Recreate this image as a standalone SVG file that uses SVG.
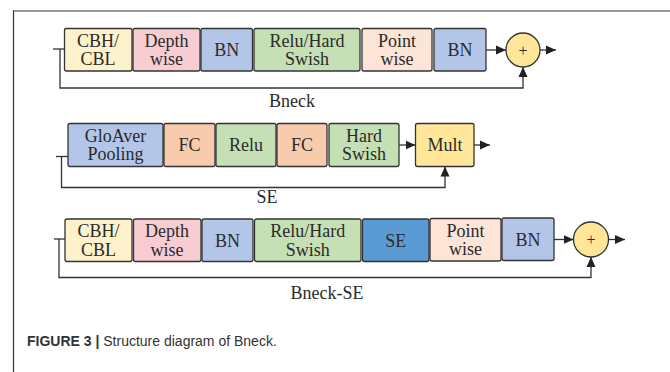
<svg xmlns="http://www.w3.org/2000/svg" width="670" height="372" viewBox="0 0 670 372">
  <defs>
    <marker id="arrow" viewBox="0 0 10 10" refX="10" refY="5" markerWidth="10" markerHeight="10" markerUnits="userSpaceOnUse" orient="auto">
      <path d="M0,0.5 L10,5 L0,9.5 Z" fill="#222"/>
    </marker>
    <style>
      .blk { stroke: #333; stroke-width: 1.3; }
      .lbl { font-family: "Liberation Serif", "Times New Roman", serif; font-size: 18px; fill: #2b2b2b; text-anchor: middle; }
      .cap { font-family: "Liberation Sans", Arial, sans-serif; font-size: 14px; fill: #333; }
      .wire { fill: none; stroke: #333; stroke-width: 1.3; }
      .yel { fill: #fdf2cc; }
      .pink { fill: #f8cdd2; }
      .blue { fill: #b4c6e7; }
      .green { fill: #c5e0b4; }
      .peach { fill: #fce4d6; }
      .orange { fill: #f8cbad; }
      .gold { fill: #ffe699; }
      .deep { fill: #5b9bd5; }
    </style>
  </defs>

  <!-- page frame -->
  <line x1="13" y1="11" x2="670" y2="11" stroke="#7a7a7a" stroke-width="1.6"/>
  <line x1="13.5" y1="10.5" x2="13.5" y2="372" stroke="#333" stroke-width="1.2"/>

  <!-- Bneck -->
  <g id="bneck-cbh"><rect class="blk yel" x="64.5" y="28.5" width="67.5" height="42.5" rx="2"/>
    <text class="lbl" x="98" y="46.5">CBH/</text><text class="lbl" x="98" y="65">CBL</text></g>
  <g id="bneck-depth"><rect class="blk pink" x="133" y="28.5" width="67" height="42.5" rx="2"/>
    <text class="lbl" x="166.5" y="46.5">Depth</text><text class="lbl" x="166.5" y="65">wise</text></g>
  <g id="bneck-bn1"><rect class="blk blue" x="201" y="28.5" width="51.5" height="42.5" rx="2"/>
    <text class="lbl" x="226.7" y="56">BN</text></g>
  <g id="bneck-act"><rect class="blk green" x="254" y="28.5" width="106" height="42.5" rx="2"/>
    <text class="lbl" x="307" y="46.5">Relu/Hard</text><text class="lbl" x="307" y="65">Swish</text></g>
  <g id="bneck-point"><rect class="blk peach" x="362" y="28.5" width="70" height="42.5" rx="2"/>
    <text class="lbl" x="397" y="46.5">Point</text><text class="lbl" x="397" y="65">wise</text></g>
  <g id="bneck-bn2"><rect class="blk blue" x="434" y="28.5" width="52" height="42.5" rx="2"/>
    <text class="lbl" x="460" y="56">BN</text></g>
  <g id="bneck-add"><circle class="blk gold" cx="523" cy="50" r="17"/>
    <text class="lbl" x="523" y="55.5" style="font-size:16px">+</text></g>
  <text class="lbl" x="292" y="107">Bneck</text>

  <!-- SE -->
  <g id="se-pool"><rect class="blk blue" x="68" y="123.5" width="95" height="43" rx="2"/>
    <text class="lbl" x="115.5" y="141.5">GloAver</text><text class="lbl" x="115.5" y="160">Pooling</text></g>
  <g id="se-fc1"><rect class="blk orange" x="164" y="123.5" width="51" height="43" rx="2"/>
    <text class="lbl" x="189.5" y="151">FC</text></g>
  <g id="se-relu"><rect class="blk green" x="216" y="123.5" width="60" height="43" rx="2"/>
    <text class="lbl" x="246" y="151">Relu</text></g>
  <g id="se-fc2"><rect class="blk orange" x="277" y="123.5" width="50" height="43" rx="2"/>
    <text class="lbl" x="302" y="151">FC</text></g>
  <g id="se-hswish"><rect class="blk green" x="329" y="123.5" width="70" height="43" rx="2"/>
    <text class="lbl" x="364" y="141.5">Hard</text><text class="lbl" x="364" y="160">Swish</text></g>
  <g id="se-mult"><rect class="blk gold" x="415.5" y="123.5" width="58.5" height="43" rx="2"/>
    <text class="lbl" x="445" y="151">Mult</text></g>
  <text class="lbl" x="267" y="203">SE</text>

  <!-- Bneck-SE -->
  <g id="bse-cbh"><rect class="blk yel" x="65" y="219" width="67" height="42.5" rx="2"/>
    <text class="lbl" x="98.5" y="237">CBH/</text><text class="lbl" x="98.5" y="255.5">CBL</text></g>
  <g id="bse-depth"><rect class="blk pink" x="133.5" y="219" width="67.5" height="42.5" rx="2"/>
    <text class="lbl" x="167" y="237">Depth</text><text class="lbl" x="167" y="255.5">wise</text></g>
  <g id="bse-bn1"><rect class="blk blue" x="202" y="219" width="51" height="42.5" rx="2"/>
    <text class="lbl" x="227.5" y="246.5">BN</text></g>
  <g id="bse-act"><rect class="blk green" x="254.5" y="219" width="106.5" height="42.5" rx="2"/>
    <text class="lbl" x="307.7" y="237">Relu/Hard</text><text class="lbl" x="307.7" y="255.5">Swish</text></g>
  <g id="bse-se"><rect class="blk deep" x="362.5" y="219" width="66.5" height="42.5" rx="2"/>
    <text class="lbl" x="395.7" y="246.5">SE</text></g>
  <g id="bse-point"><rect class="blk peach" x="430" y="218.5" width="71" height="42.5" rx="2"/>
    <text class="lbl" x="465.5" y="236.5">Point</text><text class="lbl" x="465.5" y="255">wise</text></g>
  <g id="bse-bn2"><rect class="blk blue" x="502" y="218" width="52" height="42.5" rx="2"/>
    <text class="lbl" x="528" y="245.5">BN</text></g>
  <g id="bse-add"><circle class="blk gold" cx="591" cy="239.5" r="17.5"/>
    <text class="lbl" x="591" y="245" style="font-size:16px">+</text></g>
  <text class="lbl" x="327" y="299">Bneck-SE</text>

  <!-- connectors -->
  <g id="connectors">
    <path class="wire" d="M53,49 H64.5"/>
    <path class="wire" d="M60,49 V88 H523 V67" marker-end="url(#arrow)"/>
    <path class="wire" d="M486,50 H506" marker-end="url(#arrow)"/>
    <path class="wire" d="M540,50 H556" marker-end="url(#arrow)"/>

    <path class="wire" d="M56,156.5 H68"/>
    <path class="wire" d="M61.5,156.5 V187.5 H445 V166.5" marker-end="url(#arrow)"/>
    <path class="wire" d="M399,145 H415.5" marker-end="url(#arrow)"/>
    <path class="wire" d="M474,145 H490" marker-end="url(#arrow)"/>

    <path class="wire" d="M54,239 H65"/>
    <path class="wire" d="M59,239 V277.5 H591 V257" marker-end="url(#arrow)"/>
    <path class="wire" d="M554,239.5 H573.5" marker-end="url(#arrow)"/>
    <path class="wire" d="M608.5,239.5 H625" marker-end="url(#arrow)"/>
  </g>

  <!-- caption -->
  <text class="cap" x="27" y="346"><tspan font-weight="bold">FIGURE 3 |</tspan> Structure diagram of Bneck.</text>
</svg>
